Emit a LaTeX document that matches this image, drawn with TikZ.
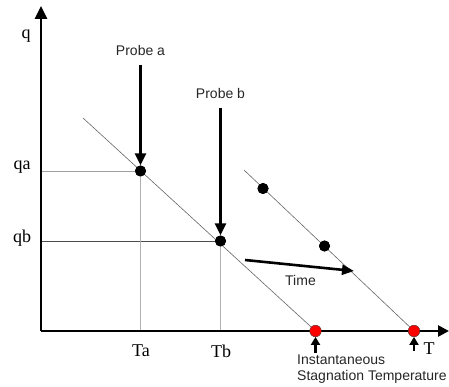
\documentclass[tikz,border=0pt]{standalone}
\usepackage{fontspec}
\setmainfont{Liberation Serif}
\setsansfont{Liberation Sans}
\usetikzlibrary{arrows.meta,positioning}

\begin{document}
\begin{tikzpicture}[x=1pt, y=-1pt, node distance=4pt,
    dot/.style={circle, fill=black, inner sep=0pt, minimum size=11pt},
    reddot/.style={circle, draw=black!70, line width=0.3pt, fill=red, inner sep=0pt, minimum size=11.5pt},
    lbl/.style={font=\fontsize{18}{20}\selectfont},
    txt/.style={font=\sffamily\fontsize{14}{16}\selectfont, text=black!85, align=left}]
    \useasboundingbox (0,0) rectangle (449,387);
    \coordinate (origin) at (41,331);
    \coordinate (qtop) at (41,6);
    \coordinate (Tend) at (449,331);
    \coordinate (l1start) at (83,118);
    \coordinate (l2start) at (244,170);
    \node[dot] (pa) at (140.5,171) {};
    \node[dot] (pb) at (220.5,241) {};
    \node[dot] (c1) at (263,188.5) {};
    \node[dot] (c2) at (324.5,246) {};
    \node[reddot] (s1) at (315.5,331) {};
    \node[reddot] (s2) at (414,331) {};
    % guide lines
    \draw[gray!75, line width=0.8pt] (origin |- pa) -- (pa.center);
    \draw[black!70, line width=0.8pt] (origin |- pb) -- (pb.center);
    \draw[gray!60, line width=0.9pt] (pa.center) -- (pa |- origin);
    \draw[gray!60, line width=0.9pt] (pb.center) -- (pb |- origin);
    \draw[black!60, line width=0.6pt] (l1start) -- (s1.center);
    \draw[black!60, line width=0.6pt] (l2start) -- (s2.center);
    % axes
    \draw[line width=2.6pt, -{Triangle[length=13pt, width=12pt]}] (origin) -- (qtop);
    \draw[line width=2.6pt, -{Triangle[length=11pt, width=11pt]}] (origin) -- (Tend);
    \node[dot] at (pa) {};
    \node[dot] at (pb) {};
    \node[dot] at (c1) {};
    \node[dot] at (c2) {};
    \node[reddot] at (s1) {};
    \node[reddot] at (s2) {};
    % probes
    \coordinate (atail) at (140.5,65);
    \coordinate (btail) at (220.5,108);
    \draw[line width=2.6pt, -{Triangle[length=12pt, width=11pt]}] (atail) -- (pa);
    \draw[line width=2.6pt, -{Triangle[length=12pt, width=11pt]}] (btail) -- (pb);
    \node[txt, above=6pt of atail] (proba) {Probe a};
    \node[txt, above=6pt of btail] (probb) {Probe b};
    % time
    \coordinate (tstart) at (245,260);
    \coordinate (tend) at (354,271);
    \draw[line width=2.6pt, -{Triangle[length=12pt, width=10pt]}] (tstart) -- (tend);
    \node[txt] (time) at (300.5,280.5) {Time};
    % stagnation arrows
    \coordinate (s1tail) at (315.5,353);
    \coordinate (s2tail) at (414,351);
    \draw[line width=2.2pt, -{Triangle[length=8pt, width=9pt]}] (s1tail) -- (s1);
    \draw[line width=2.2pt, -{Triangle[length=8pt, width=9pt]}] (s2tail) -- (s2);
    \node[txt, anchor=north west, inner sep=0pt] (stag) at (297,355) {Instantaneous\\Stagnation Temperature};
    % axis labels
    \node[lbl] (qlab) at (26,36) {q};
    \node[lbl] (qalab) at (22,167) {qa};
    \node[lbl] (qblab) at (22,238) {qb};
    \node[lbl] (talab) at (141,351) {Ta};
    \node[lbl] (tblab) at (221,351) {Tb};
    \node[lbl] (tlab) at (429,349) {T};
\end{tikzpicture}
\end{document}
